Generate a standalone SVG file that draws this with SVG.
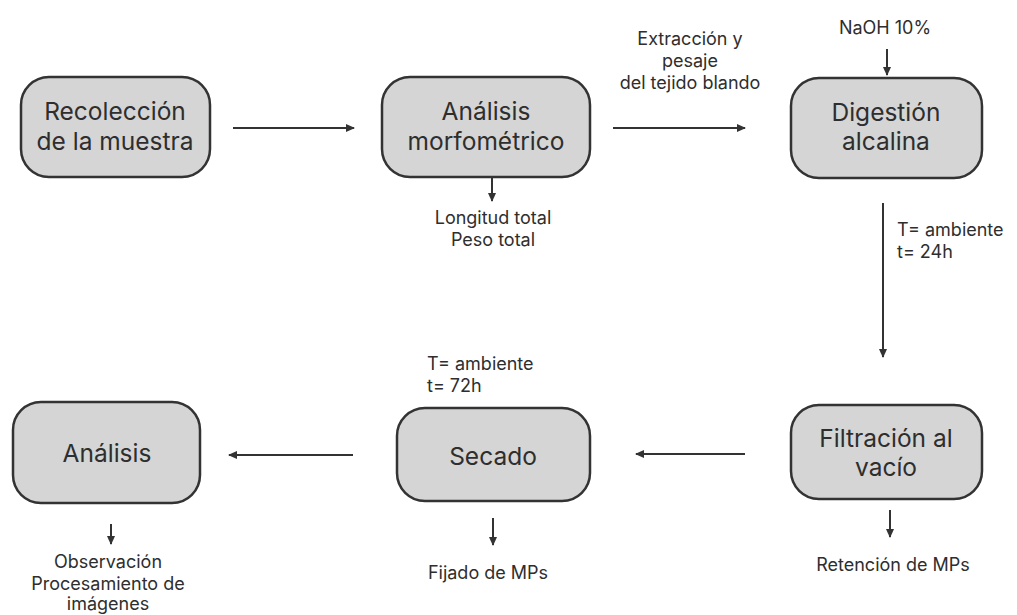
<svg xmlns="http://www.w3.org/2000/svg" width="1017" height="615" viewBox="0 0 1017 615">
<style>
.box{fill:#d5d5d5;stroke:#333;stroke-width:2.5}
.t{font-family:Inter,"Liberation Sans",sans-serif;fill:#2e2e2e;text-anchor:middle}
.nt{font-size:24.5px}
.lb{font-size:18px}
.c{stroke:#333;stroke-width:2;fill:none;marker-end:url(#ah)}
</style>
<defs>
<marker id="ah" markerWidth="10" markerHeight="10" refX="8" refY="5" orient="auto" markerUnits="userSpaceOnUse">
<path d="M0,1 L9,5 L0,9 z" fill="#333"/>
</marker>
</defs>
<rect width="1017" height="615" fill="#fff"/>
<g id="connectors">
<line class="c" x1="233" y1="128" x2="354" y2="128"/>
<line class="c" x1="613" y1="128" x2="745" y2="128"/>
<line class="c" x1="887" y1="49" x2="887" y2="75"/>
<line class="c" x1="492" y1="178" x2="492" y2="201"/>
<line class="c" x1="883" y1="203" x2="883" y2="357"/>
<line class="c" x1="745" y1="454" x2="636" y2="454"/>
<line class="c" x1="353" y1="455" x2="229" y2="455"/>
<line class="c" x1="890" y1="510" x2="890" y2="537"/>
<line class="c" x1="493" y1="518" x2="493" y2="545"/>
<line class="c" x1="111" y1="524" x2="111" y2="544"/>
</g>
<g id="n1"><rect class="box" x="21" y="77" width="189" height="100" rx="28"/>
<text class="t nt" x="115" y="120">Recolección</text><text class="t nt" x="115" y="150">de la muestra</text></g>
<g id="n2"><rect class="box" x="382" y="77" width="208" height="100" rx="28"/>
<text class="t nt" x="486" y="120">Análisis</text><text class="t nt" x="486" y="150">morfométrico</text></g>
<g id="n3"><rect class="box" x="791" y="78" width="191" height="100" rx="28"/>
<text class="t nt" x="886" y="121">Digestión</text><text class="t nt" x="886" y="150">alcalina</text></g>
<g id="n4"><rect class="box" x="791" y="405" width="191" height="94" rx="28"/>
<text class="t nt" x="886" y="447">Filtración al</text><text class="t nt" x="886" y="476">vacío</text></g>
<g id="n5"><rect class="box" x="397" y="408" width="193" height="93" rx="28"/>
<text class="t nt" x="493" y="465">Secado</text></g>
<g id="n6"><rect class="box" x="13" y="402" width="187" height="101" rx="28"/>
<text class="t nt" x="107" y="462">Análisis</text></g>
<g id="labels">
<text class="t lb" x="690" y="45">Extracción y</text>
<text class="t lb" x="690" y="67">pesaje</text>
<text class="t lb" x="690" y="89">del tejido blando</text>
<text class="t lb" x="885" y="34">NaOH 10%</text>
<text class="t lb" x="493" y="224">Longitud total</text>
<text class="t lb" x="493" y="246">Peso total</text>
<text class="t lb" x="897" y="236" style="text-anchor:start">T= ambiente</text>
<text class="t lb" x="897" y="258" style="text-anchor:start">t= 24h</text>
<text class="t lb" x="427" y="370" style="text-anchor:start">T= ambiente</text>
<text class="t lb" x="427" y="392" style="text-anchor:start">t= 72h</text>
<text class="t lb" x="488" y="579">Fijado de MPs</text>
<text class="t lb" x="893" y="571">Retención de MPs</text>
<text class="t lb" x="108" y="568">Observación</text>
<text class="t lb" x="108" y="590">Procesamiento de</text>
<text class="t lb" x="108" y="610">imágenes</text>
</g>
</svg>
